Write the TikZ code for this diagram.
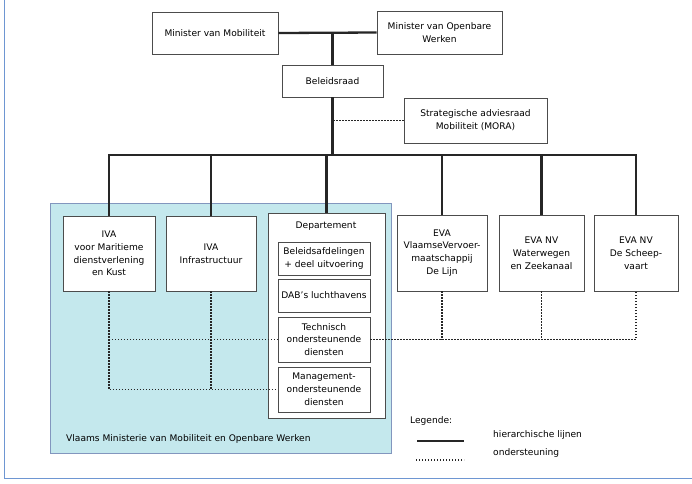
\documentclass[tikz,border=0pt]{standalone}
\usepackage{fontspec}
\setmainfont{DejaVu Sans}
\definecolor{region}{RGB}{196,232,237}
\definecolor{regionedge}{RGB}{130,150,190}
\definecolor{frameblue}{RGB}{110,150,210}
\tikzset{
  box/.style={draw=black!70, fill=white, line width=0.7pt, align=center, inner sep=1pt,
              font=\fontsize{9.1}{12.8}\selectfont},
  plain/.style={inner sep=0pt, font=\fontsize{9.1}{12.8}\selectfont},
  hier/.style={line width=2.3pt, black!85},
  supp/.style={line width=1.9pt, black!85, dash pattern=on 1.3pt off 1.7pt},
}
\begin{document}
\begin{tikzpicture}[x=1pt,y=-1pt]
\useasboundingbox (0,0) rectangle (692,483);
\fill[white] (0,0) rectangle (692,483);
% outer frame (left and bottom)
\draw[frameblue, line width=0.8pt] (4,0) -- (4,478) -- (692,478);
% ministry region
\filldraw[fill=region, draw=regionedge, line width=0.6pt] (50,203) rectangle (391,453);
\node[plain, anchor=west] (regionlabel) at (66,439) {Vlaams Ministerie van Mobiliteit en Openbare Werken};

% top boxes
\node[box, minimum width=126pt, minimum height=42pt] (mm) at (215,33) {Minister van Mobiliteit};
\node[box, minimum width=125pt, minimum height=43pt] (mo) at (439.5,32.5) {Minister van Openbare\\Werken};
\node[box, minimum width=101pt, minimum height=32pt] (br) at (332.5,81) {Beleidsraad};
\node[box, minimum width=143pt, minimum height=45pt] (mora) at (475.5,120.5) {Strategische adviesraad\\Mobiliteit (MORA)};

% second level
\node[box, minimum width=92pt, minimum height=75pt] (iva1) at (109,253.5) {IVA\\voor Maritieme\\dienstverlening\\en Kust};
\node[box, minimum width=90pt, minimum height=75pt] (iva2) at (211,253.5) {IVA\\Infrastructuur};
\node[box, minimum width=117pt, minimum height=205pt] (dep) at (326.5,315.5) {};
\node[plain] (deptitle) at (326,226) {Departement};
\node[box, minimum width=92pt, minimum height=33pt] (d1) at (324,258.5) {Beleidsafdelingen\\+ deel uitvoering};
\node[box, minimum width=92pt, minimum height=33pt] (d2) at (324,295.5) {DAB's luchthavens};
\node[box, minimum width=92pt, minimum height=45pt] (d3) at (324,339.5) {Technisch\\ondersteunende\\diensten};
\node[box, minimum width=92pt, minimum height=45pt] (d4) at (324,389.5) {Management-\\ondersteunende\\diensten};
\node[box, minimum width=90pt, minimum height=76pt] (eva1) at (442,253) {EVA\\VlaamseVervoer-\\maatschappij\\De Lijn};
\node[box, minimum width=85pt, minimum height=76pt] (eva2) at (541.5,253) {EVA NV\\Waterwegen\\en Zeekanaal};
\node[box, minimum width=84pt, minimum height=76pt] (eva3) at (636,253) {EVA NV\\De Scheep-\\vaart};

% hierarchy lines
\coordinate (bus) at (0,155);
\draw[hier] (mm.east) -- (mo.west);
\draw[hier] (br.north |- mm.east) -- (br.north);
\draw[hier] (br.south) -- (br.south |- bus);
\draw[hier, line cap=rect] (iva1.north |- bus) -- (eva3.north |- bus);
\foreach \n in {iva1,iva2,dep,eva1,eva2,eva3}
  \draw[hier] (\n.north |- bus) -- (\n.north);

% support lines
\draw[supp] (mora.west) -- (mora.west -| br.south);
\draw[supp] (iva1.south) -- (iva1.south |- d4.west) -- (d4.west);
\draw[supp] (iva2.south) -- (iva2.south |- d4.west);
\draw[supp] (iva1.south |- d3.west) -- (d3.west);
\draw[supp] (d3.east) -- (eva3.south |- d3.east) -- (eva3.south);
\draw[supp] (eva1.south) -- (eva1.south |- d3.east);
\draw[supp] (eva2.south) -- (eva2.south |- d3.east);

% legend
\node[plain, anchor=west] (legtitle) at (410,421) {Legende:};
\coordinate (lh1) at (417,441); \coordinate (lh2) at (464,441);
\coordinate (ls1) at (416,460); \coordinate (ls2) at (464,460);
\draw[hier, line width=2.8pt] (lh1) -- (lh2);
\draw[supp] (ls1) -- (ls2);
\node[plain, anchor=west] (leghier) at (493,435) {hierarchische lijnen};
\node[plain, anchor=west] (legsupp) at (493,453) {ondersteuning};
\end{tikzpicture}
\end{document}
